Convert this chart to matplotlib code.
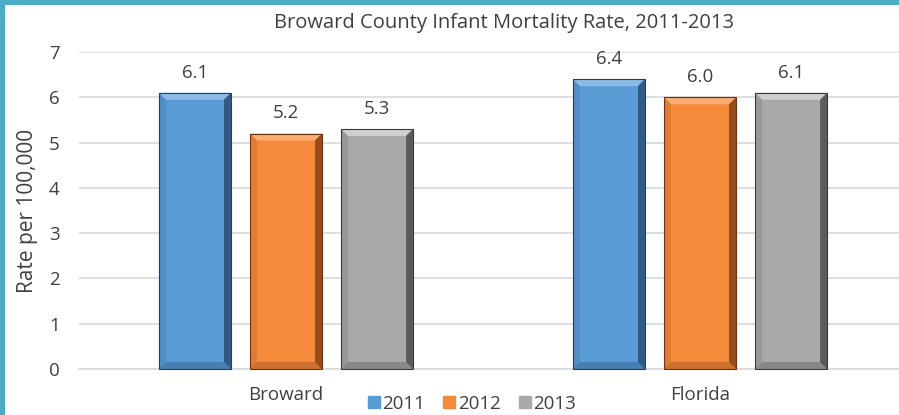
import numpy as np
import matplotlib
matplotlib.use('Agg')
import matplotlib.pyplot as plt
from matplotlib.patches import Polygon, Rectangle
from matplotlib.lines import Line2D

# data
regions = ['Broward', 'Florida']
years = ['2011', '2012', '2013']
rate_2011 = [6.1, 6.4]
rate_2012 = [5.2, 6.0]
rate_2013 = [5.3, 6.1]

colors = ['#5B9BD5', '#F58A3B', '#A9A9A9']
dark = ['#1F3F63', '#6B3410', '#3A3A3A']
light = ['#8DBBE6', '#F9AE74', '#CFCFCF']

plt.rcParams['font.family'] = ['Open Sans', 'DejaVu Sans']
txt = '#404040'

fig = plt.figure(figsize=(8.99, 4.15), dpi=100)
ax = fig.add_axes([79 / 899, 46 / 415, 820 / 899, 317 / 415])

x = np.arange(len(regions))
width = 0.174
step = 0.22
bars = []
for i, vals in enumerate([rate_2011, rate_2012, rate_2013]):
    b = ax.bar(x + (i - 1) * step, vals, width, color=colors[i], zorder=3, label=years[i])
    bars.append(b)
    for rect, v in zip(b, vals):
        ax.annotate(f'{v:.1f}', (rect.get_x() + rect.get_width() / 2, v),
                    xytext=(0, 8), textcoords='offset points',
                    ha='center', va='bottom', fontsize=13.5, color=txt)

ax.set_xlim(-0.5, 1.5 - 8 / 414)
ax.set_ylim(0, 7)
ax.set_yticks(range(8))
ax.set_xticks(x)
ax.set_xticklabels(regions)
ax.tick_params(axis='both', length=0, labelsize=13.5, labelcolor=txt)
ax.tick_params(axis='y', pad=14)
ax.tick_params(axis='x', pad=12)
ax.grid(axis='y', color='#D9D9D9', lw=1.2, zorder=0)
for s in ['top', 'right', 'left']:
    ax.spines[s].set_visible(False)
ax.spines['bottom'].set_color('#D9D9D9')
ax.spines['bottom'].set_linewidth(1.2)
ax.set_ylabel('Rate per 100,000', fontsize=15, color=txt, labelpad=8)

fig.text(0.561, 0.945, 'Broward County Infant Mortality Rate, 2011-2013',
         ha='center', va='center', fontsize=14.5, color=txt)

# bevel effect drawn in pixel space from the bar extents
fig.canvas.draw()
bev = 7
for i, b in enumerate(bars):
    for rect in b:
        bb = rect.get_window_extent()
        x0, y0, x1, y1 = bb.x0, bb.y0, bb.x1, bb.y1
        pieces = [
            ([(x0, y1), (x1, y1), (x1 - bev, y1 - bev), (x0 + bev, y1 - bev)], light[i], 1),
            ([(x1, y1), (x1, y0), (x1 - bev, y0 + bev), (x1 - bev, y1 - bev)], dark[i], 0.7),
            ([(x0, y0), (x1, y0), (x1 - bev, y0 + bev), (x0 + bev, y0 + bev)], dark[i], 0.3),
            ([(x0, y1), (x0, y0), (x0 + bev, y0 + bev), (x0 + bev, y1 - bev)], dark[i], 0.15),
        ]
        for pts, c, a in pieces:
            fig.patches.append(Polygon(pts, closed=True, transform=None, facecolor=c,
                                       alpha=a, edgecolor='none', zorder=5))
        fig.patches.append(Rectangle((x0, y0), x1 - x0, y1 - y0, transform=None,
                                     facecolor='none', edgecolor=dark[i], lw=0.8, zorder=6))

handles = [Line2D([], [], marker='s', ls='', markersize=8, markerfacecolor=c,
                  markeredgecolor=c) for c in colors]
fig.legend(handles, years, loc='center', bbox_to_anchor=(0.525, 0.027), ncol=3,
           frameon=False, fontsize=13.5, handlelength=0.6, handletextpad=0.15,
           columnspacing=1.0, labelcolor=txt)

# teal frame on left and top
fig.add_artist(Rectangle((0, 0), 5 / 899, 1, transform=fig.transFigure,
                         facecolor='#4BACC6', edgecolor='none', zorder=10))
fig.add_artist(Rectangle((0, 1 - 5 / 415), 1, 5 / 415, transform=fig.transFigure,
                         facecolor='#4BACC6', edgecolor='none', zorder=10))

fig.savefig('out.png', dpi=100)
